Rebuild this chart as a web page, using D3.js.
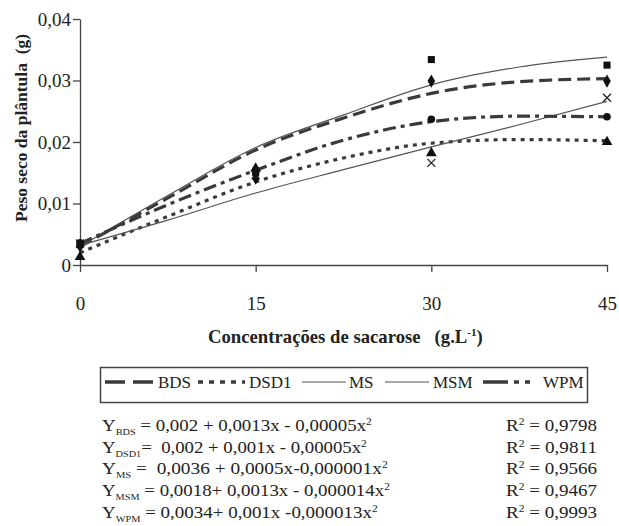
<!DOCTYPE html>
<html>
<head>
<meta charset="utf-8">
<script src="https://cdn.jsdelivr.net/npm/d3@7"></script>
<style>
  body { margin: 0; background: #fff; }
  svg { display: block; }
  svg text { font-family: "Liberation Serif", "Times New Roman", Times, serif !important; fill: #222; white-space: pre; }
</style>
</head>
<body>
<div id="chart"></div>
<script>
// dati
var conc = [0, 15, 30, 45];
var fitX = [0, 7.5, 15, 22.5, 30, 37.5, 45];

// curve di regressione
var bdsFit  = [0.0030, 0.0109, 0.0187, 0.0239, 0.0279, 0.0298, 0.0303];
var dsd1Fit = [0.0020, 0.0079, 0.0135, 0.0174, 0.0198, 0.0204, 0.0202];
var msFit   = [0.0032, 0.0073, 0.0117, 0.0155, 0.0192, 0.0228, 0.0266];
var msmFit  = [0.0030, 0.0113, 0.0191, 0.0244, 0.0293, 0.0322, 0.0338];
var wpmFit  = [0.0035, 0.0098, 0.0154, 0.0203, 0.0233, 0.0242, 0.0241];

// valori osservati
var bdsObs  = [0.0031, 0.0141, 0.0299, 0.0299];
var dsd1Obs = [0.0013, 0.0157, 0.0182, 0.0200];
var msObs   = [0.0035, 0.0146, 0.0166, 0.0272];
var msmObs  = [0.0033, 0.0150, 0.0334, 0.0325];
var wpmObs  = [0.0036, 0.0153, 0.0237, 0.0241];

var seriesNames = ["BDS", "DSD1", "MS", "MSM", "WPM"];
var yTicks = [0, 0.01, 0.02, 0.03, 0.04];
var xTicks = [0, 15, 30, 45];

var eqSubs = ["BDS", "DSD1", "MS", "MSM", "WPM"];
var eqTexts = [
  " = 0,002 + 0,0013x - 0,00005x",
  "=  0,002 + 0,001x - 0,00005x",
  " =  0,0036 + 0,0005x-0,000001x",
  " = 0,0018+ 0,0013x - 0,000014x",
  " = 0,0034+ 0,001x -0,000013x"
];
var r2Values = ["0,9798", "0,9811", "0,9566", "0,9467", "0,9993"];

// larghezze delle righe nell'immagine (px)
var eqWidths = [270, 265, 286, 288, 276];

// margini e dimensioni
var W = 619, H = 526;
var margin = {top: 19, left: 80};
var plotW = 527, plotH = 246;

var svg = d3.select("#chart").append("svg")
  .attr("width", W)
  .attr("height", H);

var g = svg.append("g")
  .attr("transform", "translate(" + margin.left + "," + margin.top + ")");

var x = d3.scaleLinear().domain([0, 45]).range([0, plotW]);
var y = d3.scaleLinear().domain([0, 0.04]).range([plotH, 0]);

var lineCol = "#3a3a3a";

// allarga il testo in orizzontale fino alla larghezza voluta
function stretch(sel, x0, y0, target) {
  var w = sel.node().getBBox().width;
  sel.attr("transform", "translate(" + x0 + "," + y0 + ") scale(" + (target / w) + ",1)");
}

// Asse Y
var yAxis = g.append("g")
  .call(d3.axisLeft(y).tickValues(yTicks).tickSize(7).tickSizeOuter(0)
    .tickFormat(function(d) { return d === 0 ? "0" : d3.format(".2f")(d).replace(".", ","); }));
yAxis.selectAll("text").style("font-size", "19px").attr("x", -9).attr("dy", "0.34em");

// Asse X
var xAxis = g.append("g")
  .attr("transform", "translate(0," + plotH + ")")
  .call(d3.axisBottom(x).tickValues(xTicks).tickSize(7).tickSizeOuter(0));
xAxis.selectAll("text").style("font-size", "19px").attr("y", 32).attr("dy", "0.71em");

g.selectAll(".domain, .tick line").attr("stroke", "#444").attr("stroke-width", 1.3);
g.selectAll("g").attr("font-family", null);
g.selectAll(".tick text").attr("fill", "#222");

// Label assi
var xt = svg.append("text")
  .attr("x", 0)
  .attr("y", 0)
  .style("font-size", "18.5px")
  .style("font-weight", "bold");
xt.append("tspan").text("Concentrações de sacarose   (g.L");
xt.append("tspan").attr("dy", -7).style("font-size", "11px").text("-1");
xt.append("tspan").attr("dy", 7).text(")");
stretch(xt, 208, 343, 275);

svg.append("text")
  .attr("transform", "translate(27,128) rotate(-90)")
  .attr("text-anchor", "middle")
  .style("font-size", "17.5px")
  .style("font-weight", "bold")
  .text("Peso seco da plântula  (g)");

// stili delle linee
var styles = {
  BDS:  {dash: "13,6", width: 3.2},
  DSD1: {dash: "4,5", width: 3.2},
  MS:   {dash: null, width: 1.2},
  MSM:  {dash: null, width: 1.2},
  WPM:  {dash: "13,5,4,5", width: 3.2}
};

var fits = {BDS: bdsFit, DSD1: dsd1Fit, MS: msFit, MSM: msmFit, WPM: wpmFit};
var obs = {BDS: bdsObs, DSD1: dsd1Obs, MS: msObs, MSM: msmObs, WPM: wpmObs};
var markers = {BDS: d3.symbolDiamond, DSD1: d3.symbolTriangle, MS: "x", MSM: d3.symbolSquare, WPM: d3.symbolCircle};

var line = d3.line()
  .x(function(d) { return x(d[0]); })
  .y(function(d) { return y(d[1]); })
  .curve(d3.curveMonotoneX);

seriesNames.forEach(function(name) {
  var pts = fitX.map(function(v, i) { return [v, fits[name][i]]; });
  g.append("path")
    .datum(pts)
    .attr("d", line)
    .attr("fill", "none")
    .attr("stroke", name === "MS" || name === "MSM" ? "#555" : lineCol)
    .attr("stroke-width", styles[name].width)
    .attr("stroke-dasharray", styles[name].dash);
});

// marcatori
seriesNames.forEach(function(name) {
  var data = conc.map(function(v, i) { return [v, obs[name][i]]; });
  var sel = g.selectAll(null).data(data).enter();
  if (markers[name] === "x") {
    sel.append("path")
      .attr("transform", function(d) { return "translate(" + x(d[0]) + "," + y(d[1]) + ")"; })
      .attr("d", "M-4,-4L4,4M-4,4L4,-4")
      .attr("stroke", "#222")
      .attr("stroke-width", 1.3)
      .attr("fill", "none");
  } else {
    sel.append("path")
      .attr("transform", function(d) { return "translate(" + x(d[0]) + "," + y(d[1]) + ")"; })
      .attr("d", d3.symbol().type(markers[name]).size(markers[name] === d3.symbolCircle ? 45 : 50))
      .attr("fill", "#111");
  }
});

// legenda
var legend = svg.append("g");
legend.append("rect")
  .attr("x", 100.5).attr("y", 367.5)
  .attr("width", 487).attr("height", 35)
  .attr("fill", "none")
  .attr("stroke", "#444")
  .attr("stroke-width", 1.5);

var legItems = [
  {name: "BDS",  x1: 105, x2: 154, tx: 158},
  {name: "DSD1", x1: 198, x2: 245, tx: 249},
  {name: "MS",   x1: 302, x2: 346, tx: 349},
  {name: "MSM",  x1: 385, x2: 429, tx: 433},
  {name: "WPM",  x1: 483, x2: 540, tx: 543}
];
var legDash = {BDS: "20,8", DSD1: "5,6", MS: null, MSM: null, WPM: "25,6,5,6,5,10"};

legItems.forEach(function(it) {
  legend.append("line")
    .attr("x1", it.x1).attr("x2", it.x2)
    .attr("y1", 382).attr("y2", 382)
    .attr("stroke", styles[it.name].width > 2 ? lineCol : "#555")
    .attr("stroke-width", styles[it.name].width > 2 ? 3.5 : 1.2)
    .attr("stroke-dasharray", legDash[it.name]);
  legend.append("text")
    .attr("x", it.tx).attr("y", 388)
    .style("font-size", "17px")
    .text(it.name);
});

// equazioni
var eq = svg.append("g");
eqSubs.forEach(function(sub, i) {
  var yy = 431 + i * 21.7;
  var t = eq.append("text")
    .style("font-size", "16.5px");
  t.append("tspan").text("Y");
  t.append("tspan").attr("dy", 4).style("font-size", "9px").text(sub);
  t.append("tspan").attr("dy", -4).text(eqTexts[i]);
  t.append("tspan").attr("dy", -6).style("font-size", "10px").text("2");
  stretch(t, 102, yy, eqWidths[i]);

  var r = eq.append("text")
    .style("font-size", "16.5px");
  r.append("tspan").text("R");
  r.append("tspan").attr("dy", -6).style("font-size", "10px").text("2");
  r.append("tspan").attr("dy", 6).text(" = " + r2Values[i]);
  stretch(r, 506, yy, 91);
});
</script>
</body>
</html>
